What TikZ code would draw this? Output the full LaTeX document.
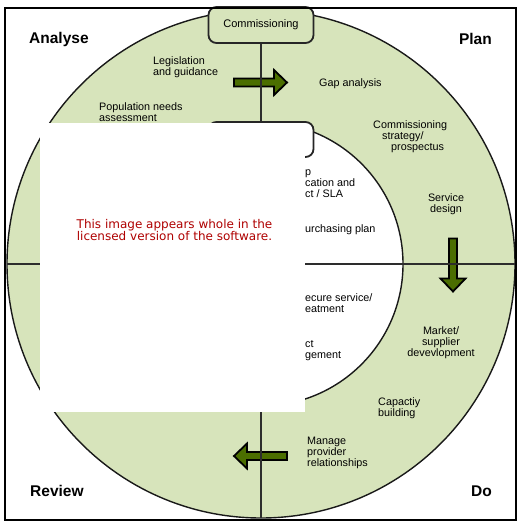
\documentclass[tikz,border=0pt]{standalone}
\usepackage{fontspec}
\setmainfont{Liberation Sans}
\newfontfamily\noticefont{DejaVu Sans}
\usetikzlibrary{calc}

\definecolor{ringgreen}{RGB}{215,228,187}
\definecolor{arrowgreen}{RGB}{75,110,0}
\definecolor{noticered}{RGB}{175,0,0}
\definecolor{axisgray}{RGB}{45,45,45}

\tikzset{
	ringline/.style={draw=black!90, line width=1.4pt},
	axisline/.style={draw=axisgray, line width=1.8pt},
	framebox/.style={draw=black, line width=2.4pt},
	stagebox/.style={draw=black!85, line width=1.8pt, rounded corners=8pt,
		minimum width=105pt, minimum height=36pt, inner sep=0pt,
		font=\fontsize{11}{12}\selectfont},
	ringlabel/.style={font=\fontsize{10.8}{11}\selectfont, align=left, inner sep=0pt, anchor=west},
	phaselabel/.style={font=\bfseries\fontsize{15.5}{16}\selectfont, inner sep=0pt},
	arrowbody/.style={draw=black, line width=1.8pt, fill=arrowgreen, line join=miter},
	coverbox/.style={fill=white, inner sep=0pt, minimum width=265pt, minimum height=289pt},
	noticetext/.style={text=noticered, align=center, inner sep=0pt,
		font=\noticefont\fontsize{12}{11.5}\selectfont},
	fatarrow/.pic={
		\draw[arrowbody] (0,-4) -- (40,-4) -- (40,-12.5) -- (53,0) -- (40,12.5) -- (40,4) -- (0,4) -- cycle;
	}
}

\begin{document}
\begin{tikzpicture}[x=1pt,y=-1pt]
	\useasboundingbox (0,0) rectangle (524,532);

	% Ring
	\coordinate (hub) at (261,264);
	\draw[ringline, fill=ringgreen] (hub) circle (254pt);
	\draw[ringline, fill=white] (hub) circle (142pt);

	% Arrows between the phases
	\pic at (234,82.5) {fatarrow};
	\pic[rotate=-90] at (453,238.5) {fatarrow};
	\pic[rotate=180] at (287,456) {fatarrow};

	% Axes
	\coordinate (ringleft) at (7,264);
	\coordinate (ringright) at (516,264);
	\coordinate (ringbottom) at (261,518);
	\draw[axisline] (ringleft) -- (ringright);

	% Boxes
	\node[stagebox, fill=ringgreen] (commbox) at (261,25) {Commissioning};
	\node[stagebox, fill=white, minimum height=35pt] (innerbox) at (261,139.5) {};
	\draw[axisline] (commbox.south) -- (innerbox.north);
	\draw[axisline] (innerbox.south) -- (ringbottom);

	% Outer ring labels
	\node[ringlabel] (legis) at (153,67) {Legislation\\and guidance};
	\node[ringlabel] (popneeds) at (99,112) {Population needs\\assessment};
	\node[ringlabel] (gap) at (319,83.5) {Gap analysis};
	\node[ringlabel] (strategy) at (373,136.5) {Commissioning\\\hspace*{9pt}strategy/\\\hspace*{18pt}prospectus};
	\node[ringlabel, anchor=center, align=center] (design) at (446,204) {Service\\design};
	\node[ringlabel, anchor=center, align=center] (market) at (441,343) {Market/\\supplier\\devevlopment};
	\node[ringlabel] (capacity) at (378,408.5) {Capactiy\\building};
	\node[ringlabel] (provider) at (307,453) {Manage\\provider\\relationships};

	% Inner ring labels
	\node[ringlabel] (spec) at (305,184) {p\\cation and\\ct / SLA};
	\node[ringlabel] (purchase) at (305,230) {urchasing plan};
	\node[ringlabel] (secure) at (305,303.5) {ecure service/\\eatment};
	\node[ringlabel] (contract) at (305,350.5) {ct\\gement};

	% Phases
	\foreach \name/\pos/\anc/\txt in {analyse/{(29,39)}/west/Analyse, plan/{(492,39)}/east/Plan,
		review/{(30,491)}/west/Review, do/{(492,491)}/east/Do}
		\node[phaselabel, anchor=\anc] (\name) at \pos {\txt};

	% Frame
	\draw[framebox] (5,8) rectangle (516,520);

	% Cover
	\node[coverbox] (cover) at (172.5,267.5) {};
	\node[noticetext] (notice) at (174.5,230) {This image appears whole in the\\licensed version of the software.};
\end{tikzpicture}
\end{document}
